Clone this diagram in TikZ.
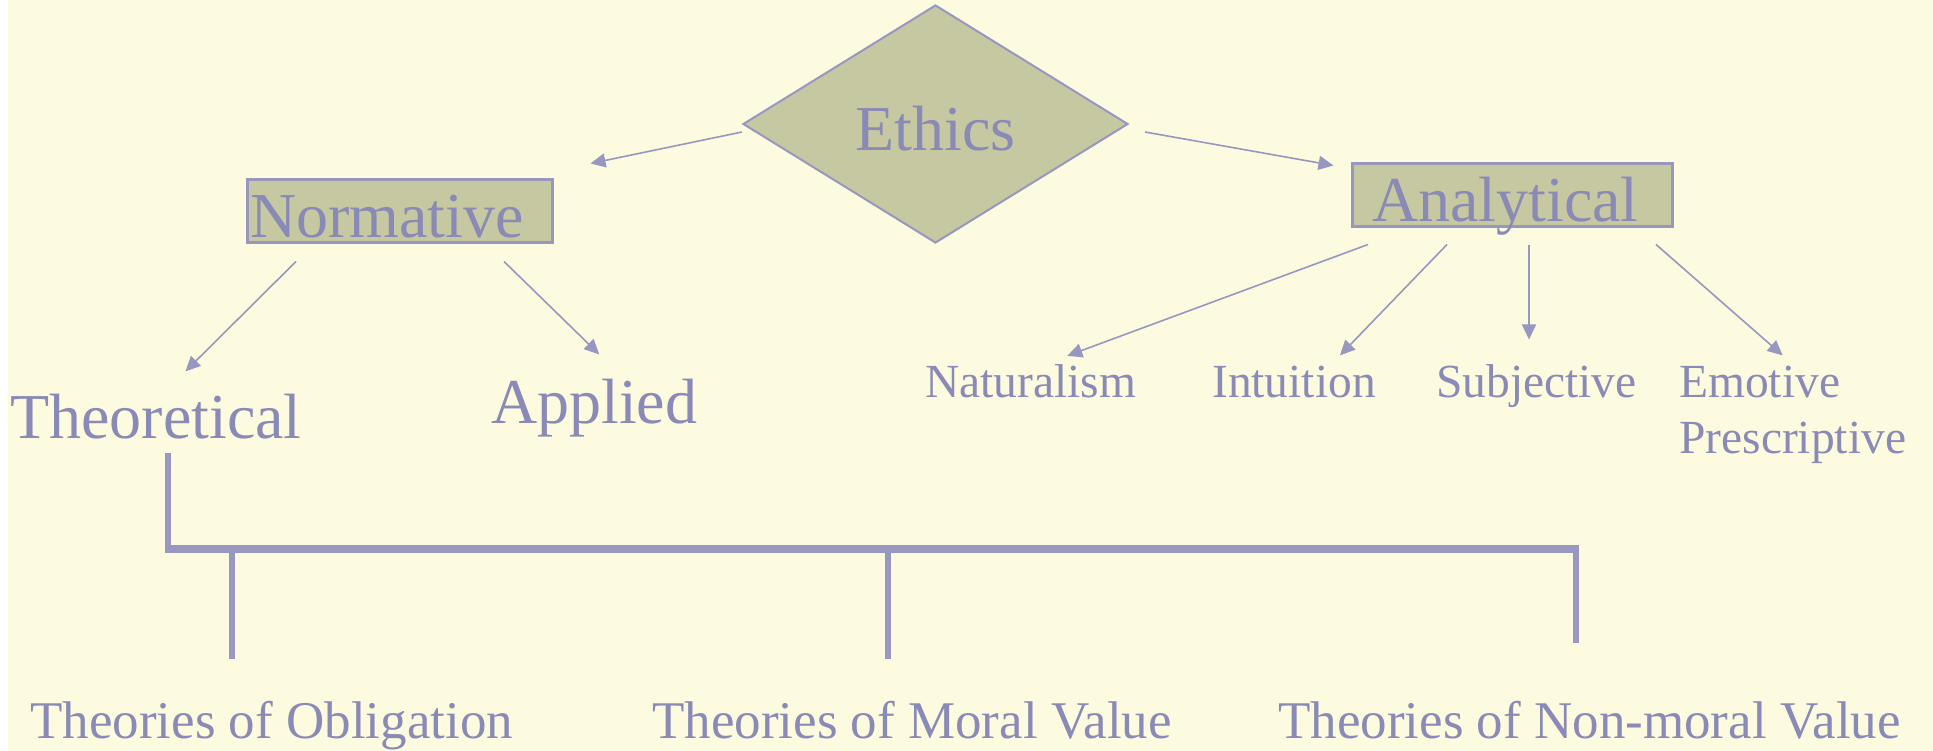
\documentclass[tikz,border=0pt]{standalone}
\usepackage{fontspec}
\setmainfont{Liberation Serif}
\usetikzlibrary{shapes.geometric,arrows.meta,calc}
\definecolor{bg}{HTML}{FCFBDF}
\definecolor{ink}{HTML}{8A8AB6}
\definecolor{edgec}{HTML}{9797BF}
\definecolor{boxfill}{HTML}{C5C8A1}
\begin{document}
\begin{tikzpicture}[x=1pt,y=-1pt,
  big/.style={font=\fontsize{64}{70}\selectfont, text=ink},
  mid/.style={font=\fontsize{47.5}{56}\selectfont, text=ink, inner sep=0pt, anchor=base west, align=left},
  low/.style={font=\fontsize{53}{60}\selectfont, text=ink, inner sep=0pt, anchor=base west},
  plain/.style={big, inner sep=0pt, anchor=base west},
  arr/.style={draw=edgec, line width=1.6pt, -{Triangle[length=15pt,width=14pt]}},
  bar/.style={draw=edgec, line width=6pt},
  hbar/.style={draw=edgec, line width=8pt},
  box/.style={draw=edgec, line width=3pt, fill=boxfill, minimum height=63pt,
    text height=53pt, text depth=0pt, align=left, inner ysep=0pt, big}]
\fill[white] (0,0) rectangle (1933,751);
\fill[bg] (8,0) rectangle (1933,751);
\useasboundingbox (0,0) rectangle (1933,751);

\node[diamond, draw=edgec, line width=2pt, fill=boxfill, minimum width=385pt,
  minimum height=238pt, inner sep=0pt, big, text height=54pt, text depth=0pt]
  (ethics) at (935.5,124) {Ethics};
\node[box, text width=299pt, inner xsep=3pt] (norm) at (399.5,211.5) {Normative};
\node[box, text width=280pt, inner xsep=20pt] (anal) at (1512,195.5) {Analytical};

\node[plain] (theo) at (10,438) {Theoretical};
\node[plain] (appl) at (491,423) {Applied};
\node[mid] (nat) at (925,397) {Naturalism};
\node[mid] (intu) at (1212,397) {Intuition};
\node[mid] (subj) at (1436,397) {Subjective};
\node[mid] (emot) at (1679,453) {Emotive\\Prescriptive};
\node[low] (obl) at (30,738) {Theories of Obligation};
\node[low] (moral) at (652,738) {Theories of Moral Value};
\node[low] (nonmoral) at (1278,738) {Theories of Non-moral Value};

\draw[arr] ($(ethics.west)+(0,8)$) -- ($(norm.north east)+(37,-15)$);
\draw[arr] ($(ethics.east)+(16,8)$) -- ($(anal.north west)+(-17,3)$);
\draw[arr] ($(norm.south)+(-103.5,17)$) -- ($(theo.north)+(29.5,-22)$);
\draw[arr] ($(norm.south)+(104.5,17)$) -- ($(appl.north)+(5,-24)$);
\draw[arr] ($(anal.south)+(-144,16)$) -- ($(nat.north)+(36.5,-8)$);
\draw[arr] ($(anal.south)+(-65,16)$) -- ($(intu.north)+(46,-10)$);
\draw[arr] ($(anal.south)+(17,17)$) -- ++(0,94);
\draw[arr] ($(anal.south)+(144,16)$) -- ($(emot.north)+(-10,-10)$);

\coordinate (hubL) at ($(theo.south)+(12.5,110)$);
\coordinate (nmTop) at ($(nonmoral.north)+(-13.5,-57)$);
\coordinate (oblTop) at ($(obl.north)+(-39.5,-41)$);
\coordinate (morTop) at ($(moral.north)+(-23.5,-41)$);
\draw[bar] ($(theo.south)+(12.5,14)$) -- (hubL);
\draw[hbar] ($(hubL)+(-3,0)$) -- ($(hubL -| nmTop)+(3,0)$);
\draw[bar] (hubL -| nmTop) -- (nmTop);
\draw[bar] (hubL -| oblTop) -- (oblTop);
\draw[bar] (hubL -| morTop) -- (morTop);
\end{tikzpicture}
\end{document}
